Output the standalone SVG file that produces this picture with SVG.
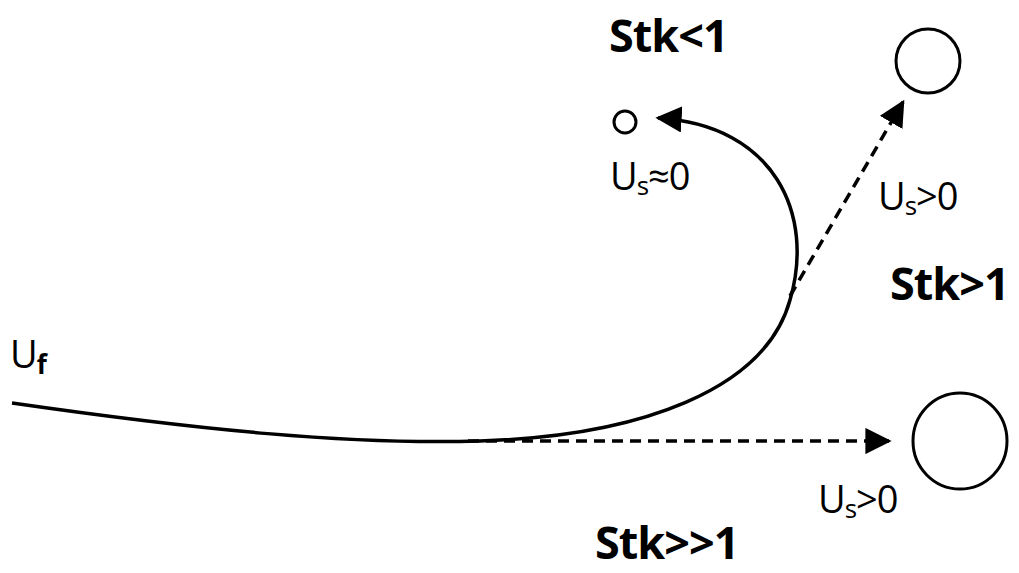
<svg xmlns="http://www.w3.org/2000/svg" width="1019" height="573" viewBox="0 0 1019 573">
<style>
.t{font-family:"Open Sans","Liberation Sans",sans-serif;fill:#000}
.b{font-weight:bold;font-size:45px;letter-spacing:-1px}
.n{font-size:38px;letter-spacing:-1px}
.c{fill:none;stroke:#000;stroke-width:3}
.d{fill:none;stroke:#000;stroke-width:3.5;stroke-dasharray:11 7}
</style>
<defs>
<marker id="ah" viewBox="0 0 10 10" refX="9" refY="5" markerWidth="7.5" markerHeight="7.5" markerUnits="strokeWidth" orient="auto"><path d="M0,0 L10,5 L0,10 z" fill="#000"/></marker>
</defs>
<rect width="1019" height="573" fill="#fff"/>
<g id="connectors">
<path class="c" style="stroke-width:3.5" d="M12,403 C200,430 350,445 480,441 C640,436 765,390 790,300 C815,215 775,125 658,118" marker-end="url(#ah)"/>
<path class="d" d="M790,296 L903,102" marker-end="url(#ah)"/>
<path class="d" d="M468,441 L889,441" marker-end="url(#ah)"/>
</g>
<g id="small-particle"><circle class="c" cx="625" cy="122" r="11"/></g>
<g id="medium-particle"><circle class="c" cx="928" cy="61" r="32"/></g>
<g id="large-particle"><ellipse class="c" cx="960" cy="441" rx="47" ry="48"/></g>
<g id="labels">
<text class="t b" x="609" y="52">Stk&lt;1</text>
<text class="t b" x="890" y="300">Stk&gt;1</text>
<text class="t b" x="595" y="559">Stk&gt;&gt;1</text>
<text class="t n" x="610" y="190">U<tspan font-size="26" dy="5">s</tspan><tspan dy="-5">≈0</tspan></text>
<text class="t n" x="878" y="210">U<tspan font-size="26" dy="5">s</tspan><tspan dy="-5">&gt;0</tspan></text>
<text class="t n" x="818" y="513">U<tspan font-size="26" dy="5">s</tspan><tspan dy="-5">&gt;0</tspan></text>
<text class="t n" x="10" y="368">U<tspan font-size="26" font-weight="bold" dy="6">f</tspan></text>
</g>
</svg>
